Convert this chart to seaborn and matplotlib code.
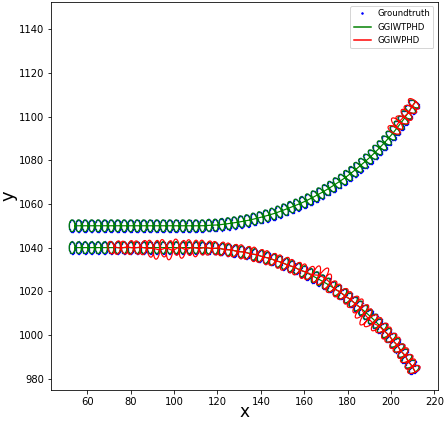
import numpy as np
import pandas as pd
import matplotlib
matplotlib.use("Agg")
import matplotlib.pyplot as plt
import seaborn as sns
from matplotlib.lines import Line2D

# ---------------- data ----------------
# ground-truth centres, shared x positions for both targets
track_x = [53.0, 56.0, 59.0, 62.0, 65.0, 68.0, 71.0, 74.0, 77.0, 80.0,
           83.0, 86.0, 89.0, 92.0, 95.0, 98.0, 101.0, 104.0, 107.0, 110.0,
           113.0, 116.0, 119.0, 122.0, 125.0, 127.9, 130.9, 133.8, 136.8, 139.7,
           142.6, 145.5, 148.3, 151.1, 153.9, 156.7, 159.5, 162.2, 164.9, 167.5,
           170.1, 172.6, 175.2, 177.7, 180.1, 182.5, 184.8, 187.1, 189.4, 191.6,
           193.7, 195.8, 197.9, 199.9, 201.8, 203.7, 205.5, 207.2, 208.9, 210.5]
top_y = [
    1050.0, 1050.0, 1050.0, 1050.0, 1050.0, 1050.0, 1050.0, 1050.0, 1050.0, 1050.0,
    1050.0, 1050.0, 1050.0, 1050.0, 1050.0, 1050.0, 1050.0, 1050.0, 1050.0, 1050.0,
    1050.0, 1050.2, 1050.3, 1050.6, 1051.0, 1051.4, 1051.9, 1052.4, 1053.1, 1053.8,
    1054.6, 1055.4, 1056.4, 1057.4, 1058.5, 1059.6, 1060.8, 1062.1, 1063.5, 1064.9,
    1066.4, 1067.9, 1069.6, 1071.2, 1073.0, 1074.8, 1076.7, 1078.6, 1080.6, 1082.6,
    1084.7, 1086.8, 1089.1, 1091.3, 1093.6, 1096.0, 1098.3, 1100.8, 1103.3, 1105.8]
bottom_y = [
    1040.0, 1040.0, 1040.0, 1040.0, 1040.0, 1040.0, 1040.0, 1040.0, 1040.0, 1040.0,
    1040.0, 1040.0, 1040.0, 1040.0, 1040.0, 1040.0, 1040.0, 1040.0, 1040.0, 1040.0,
    1040.0, 1039.8, 1039.7, 1039.4, 1039.0, 1038.6, 1038.1, 1037.6, 1036.9, 1036.2,
    1035.4, 1034.6, 1033.6, 1032.6, 1031.5, 1030.4, 1029.2, 1027.9, 1026.5, 1025.1,
    1023.6, 1022.1, 1020.4, 1018.8, 1017.0, 1015.2, 1013.3, 1011.4, 1009.4, 1007.4,
    1005.3, 1003.2, 1000.9, 998.7, 996.4, 994.0, 991.7, 989.2, 986.7, 984.2]

# GGIWPHD estimates on the lower target (steps 6..59): extent, tilt, offset
phd_bottom_first = 6
phd_bottom_b = [2.9, 3.1, 3.0, 3.2, 3.1, 3.3,
                3.9, 4.3, 4.0, 4.4, 3.7, 4.1, 3.6, 3.8, 3.4,
                3.3, 3.1, 3.2, 3.1, 3.0, 3.2, 3.1, 3.3,
                3.1, 3.2, 3.0, 3.1, 3.3, 3.1, 3.2, 3.4,
                3.5, 4.0, 4.5, 3.7,
                3.3, 3.1, 3.2, 3.1, 3.4, 3.7,
                4.1, 4.4, 3.9, 3.6, 3.3, 3.2,
                3.1, 3.2, 3.0, 3.1, 3.1, 3.0, 3.1]
phd_bottom_tilt = [12, -10, 14, -8, 10, -12,
                   6, -4, 8, -6, 4, -8, 5, -3, 6,
                   -10, 12, -8, 10, -12, 9, -10, 11,
                   -9, 10, -11, 8, -10, 12, -9, 10,
                   -6, 8, -5, 7,
                   -10, 9, -11, 10, -8, 6,
                   -5, 7, -6, 9, -10, 11,
                   -9, 10, -12, 9, -10, 11, -8]
phd_bottom_shift = [0, 0, 0, 0, 0, 0,
                    -0.5, -1.0, -0.3, -1.2, 0.2, -0.8, 0.0, -0.4, 0.0,
                    0, 0, 0, 0, 0, 0, 0, 0,
                    0, 0, 0, 0, 0, 0, 0, 0,
                    0.5, 1.5, 2.0, 1.0,
                    0, 0, 0, 0, 0, 0,
                    -0.8, -1.5, -1.2, -0.5, 0.0, 0.0,
                    0, 0, 0, 0, 0, 0, 0]
# GGIWPHD estimates on the upper target (steps 54..59)
phd_top_first = 54
phd_top_b = [3.1, 3.4, 3.2, 3.3, 3.1, 3.2]
phd_top_tilt = [10, -8, 12, -10, 9, -11]
phd_top_shift = [0.5, 1.2, 0.3, 0.0, 0.0, 0.0]

x_ticks = [60, 80, 100, 120, 140, 160, 180, 200, 220]
y_ticks = [980, 1000, 1020, 1040, 1060, 1080, 1100, 1120, 1140]
labels = ["Groundtruth", "GGIWTPHD", "GGIWPHD"]

# ---------------- geometry helpers ----------------
GT_A, GT_B = 1.4, 2.8       # ground-truth semi-axes (along, across)
TP_A, TP_B = 1.3, 2.7       # GGIWTPHD semi-axes
PHD_A = 1.45


def outlines(xs, ys, first, a, b, tilt, shift, n=41):
    xs = np.asarray(xs, float)
    ys = np.asarray(ys, float)
    head = np.arctan2(np.gradient(ys), np.gradient(xs))
    m = len(b) if np.ndim(b) else len(xs) - first
    idx = np.arange(first, first + m)
    b = np.broadcast_to(np.asarray(b, float), (m,))
    tilt = np.broadcast_to(np.asarray(tilt, float), (m,))
    shift = np.broadcast_to(np.asarray(shift, float), (m,))
    t = np.linspace(0, 2 * np.pi, n)
    px, py = [], []
    for j, i in enumerate(idx):
        h = head[i]
        cx = xs[i] - shift[j] * np.sin(h)
        cy = ys[i] + shift[j] * np.cos(h)
        th = h + np.deg2rad(tilt[j])
        ux, uy = np.cos(th), np.sin(th)
        px.append(cx + a * np.cos(t) * ux - b[j] * np.sin(t) * uy)
        py.append(cy + a * np.cos(t) * uy + b[j] * np.sin(t) * ux)
    return pd.DataFrame({"x": np.concatenate(px), "y": np.concatenate(py)})


gt_frames = [outlines(track_x, top_y, 0, GT_A, GT_B, 0, 0),
             outlines(track_x, bottom_y, 0, GT_A, GT_B, 0, 0)]
tp_frames = [outlines(track_x, top_y, 0, TP_A, TP_B, 0, 0),
             outlines(track_x, bottom_y, 0, TP_A, TP_B, 0, 0)]
phd_frames = [outlines(track_x, bottom_y, phd_bottom_first, PHD_A,
                       phd_bottom_b, phd_bottom_tilt, phd_bottom_shift),
              outlines(track_x, top_y, phd_top_first, PHD_A,
                       phd_top_b, phd_top_tilt, phd_top_shift)]

# ---------------- figure ----------------
fig = plt.figure(figsize=(446 / 72, 422 / 72), dpi=72)
ax = fig.add_axes([0.1143, 0.0758, 0.8671, 0.9202])

for df in gt_frames:
    sns.scatterplot(data=df, x="x", y="y", ax=ax, color="blue", s=1.8,
                    linewidth=0, zorder=2, legend=False)
for df in tp_frames:
    sns.lineplot(data=df, x="x", y="y", ax=ax, sort=False, estimator=None,
                 color="green", linewidth=1.2, zorder=3, legend=False)
for df in phd_frames:
    sns.lineplot(data=df, x="x", y="y", ax=ax, sort=False, estimator=None,
                 color="red", linewidth=1.2, zorder=4, legend=False)

ax.set_xlim(43.3, 221.5)
ax.set_ylim(974.8, 1152.6)
ax.set_xticks(x_ticks)
ax.set_yticks(y_ticks)
ax.tick_params(labelsize=10)
ax.set_xlabel("x", fontsize=17)
ax.xaxis.set_label_coords(0.5, -0.034)
ax.set_ylabel("y", fontsize=18, labelpad=1)

handles = [Line2D([], [], color="blue", marker=".", linestyle="none", markersize=3),
           Line2D([], [], color="green", linewidth=1.5),
           Line2D([], [], color="red", linewidth=1.5)]
ax.legend(handles, labels, loc="upper right", fontsize=8.5)

fig.savefig("out.png", dpi=72)
